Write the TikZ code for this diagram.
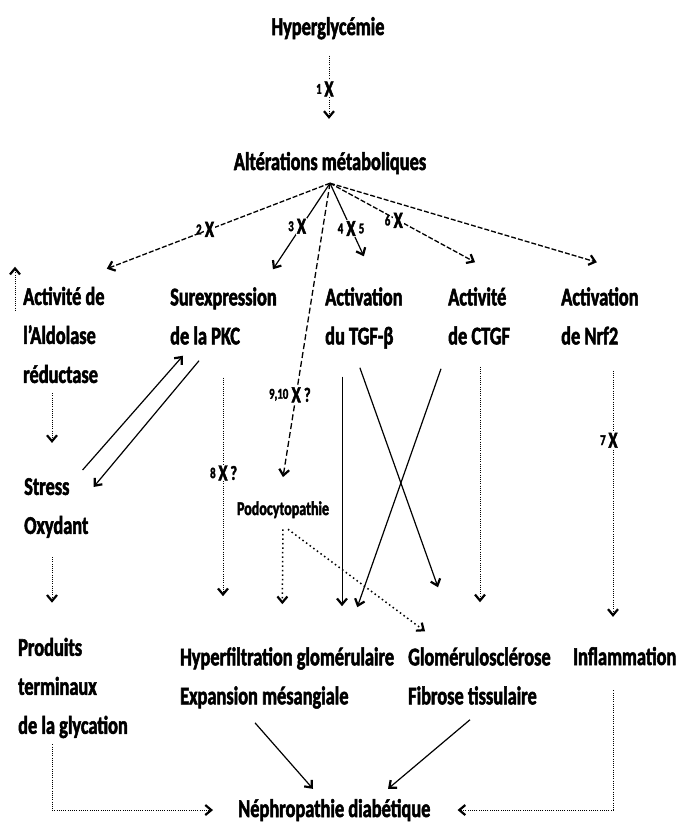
\documentclass[tikz,border=0pt]{standalone}
\usepackage{fontspec}
\setmainfont{Carlito}[FakeStretch=0.72,FakeBold=2]
\usetikzlibrary{arrows.meta}

\begin{document}
\begin{tikzpicture}[x=1pt,y=-1pt,
  txt/.style={font=\fontsize{25.5}{39}\selectfont\bfseries, inner sep=0pt, align=left},
  small/.style={font=\fontsize{19.5}{22}\selectfont\bfseries, inner sep=0pt},
  xm/.style={font=\fontsize{23}{24}\selectfont\bfseries, fill=white, inner sep=1pt},
  num/.style={font=\fontsize{15}{16}\selectfont\bfseries, inner sep=1pt},
  qm/.style={font=\fontsize{20}{22}\selectfont\bfseries, inner sep=1pt},
  tip/.style={-{Straight Barb[length=6pt,width=10pt,line width=2.2pt]}},
  solidl/.style={tip, line width=1.2pt},
  dashl/.style={tip, line width=1.3pt, dash pattern=on 5pt off 2pt},
  dotl/.style={tip, line width=0.8pt, dash pattern=on 1pt off 1.2pt},
  coarse/.style={tip, line width=1.5pt, dash pattern=on 1.5pt off 3pt},
]
\useasboundingbox[fill=white] (0,0) rectangle (678,827);

% boxes of text
\node[txt,anchor=base] (hyper) at (328,35) {Hyperglycémie};
\node[txt,anchor=base] (alt) at (330,170) {Altérations métaboliques};
\node[txt,anchor=west] (ald) at (23,335) {Activité de\\l’Aldolase\\réductase};
\node[txt,anchor=west] (pkc) at (170,316) {Surexpression\\de la PKC};
\node[txt,anchor=west] (tgf) at (325,318) {Activation\\du TGF-β};
\node[txt,anchor=west] (ctgf) at (448,316) {Activité\\de CTGF};
\node[txt,anchor=west] (nrf) at (561,316) {Activation\\de Nrf2};
\node[txt,anchor=west] (stress) at (24,508) {Stress\\Oxydant};
\node[small,anchor=base] (podo) at (283,515) {Podocytopathie};
\node[txt,anchor=west] (prod) at (18,688) {Produits\\terminaux\\de la glycation};
\node[txt,anchor=west] (hyp) at (180,678) {Hyperfiltration glomérulaire\\Expansion mésangiale};
\node[txt,anchor=west] (glo) at (408,676) {Glomérulosclérose\\Fibrose tissulaire};
\node[txt,anchor=base west] (infl) at (573,665) {Inflammation};
\node[txt,anchor=base west] (neph) at (238,817) {Néphropathie diabétique};

\coordinate (apex) at ([yshift=-9pt]alt.south);

% first step
\draw[dotl, shorten <=16pt, shorten >=33pt] (hyper.south -| 329,0) -- node[xm,pos=0.44,label={[num]left:1}] (x1) {X} (alt.north -| 329,0);

% fan of pathways
\draw[dashl] (apex) -- node[xm,pos=0.54,label={[num]left:2}] (x2) {X} ([shift={(2pt,18pt)}]ald.north east);
\draw[solidl] (apex) -- node[xm,pos=0.5,label={[num]left:3}] (x3) {X} ([shift={(-4pt,18pt)}]pkc.north east);
\draw[dashl, dash pattern=on 6pt off 3pt] (apex) -- node[xm,pos=0.72,label={[num]left:{9,10}},label={[qm]right:?}] (x9) {X} ([yshift=24pt]podo.north);
\draw[solidl] (apex) -- node[xm,pos=0.62,label={[num]left:4},label={[num]right:5}] (x4) {X} ([yshift=31pt]tgf.north);
\draw[dashl] (apex) -- node[xm,pos=0.47,label={[num]left:6}] (x6) {X} ([shift={(-4pt,25pt)}]ctgf.north);
\draw[dashl] (apex) -- ([shift={(-3pt,25pt)}]nrf.north);

% left column
\draw[dotl] ([shift={(-8pt,-24pt)}]ald.north west) -- ([shift={(-8pt,20pt)}]ald.north west);
\draw[dotl, shorten <=10pt, shorten >=35pt] (ald.south -| 52,0) -- (stress.north -| 52,0);
\draw[solidl] ([shift={(-6pt,38pt)}]stress.east) -- ([shift={(13pt,-11pt)}]pkc.south west);
\draw[solidl] ([shift={(29pt,-16pt)}]pkc.south west) -- ([shift={(5pt,21pt)}]stress.east);
\draw[dotl, shorten <=19pt, shorten >=35pt] (stress.south -| 52,0) -- (prod.north -| 52,0);

% middle
\draw[dotl, shorten <=33pt, shorten >=51pt] (pkc.south -| 223,0) -- node[xm,pos=0.424,label={[num]left:8},label={[qm]right:?}] (x8) {X} (hyp.north -| 223,0);
\draw[coarse, shorten <=11pt, shorten >=43pt] (podo.south) -- (hyp.north -| 282,0);
\draw[coarse] ([shift={(5pt,-11pt)}]podo.south) -- ([shift={(17pt,16pt)}]glo.north west);
\draw[solidl, line width=0.9pt, shorten <=28pt, shorten >=41pt] (tgf.south -| 342,0) -- (hyp.north -| 342,0);
\draw[solidl] ([shift={(-4pt,-19pt)}]tgf.south) -- ([shift={(30pt,60pt)}]glo.north west);
\draw[solidl] ([shift={(-7pt,-24pt)}]ctgf.south west) -- ([shift={(-37pt,40pt)}]hyp.north east);
\draw[dotl, shorten <=22pt, shorten >=45pt] (ctgf.south -| 480,0) -- (glo.north -| 480,0);
\draw[dotl, shorten <=26pt, shorten >=30pt] (nrf.south -| 613,0) -- node[xm,pos=0.316,label={[num]left:7}] (x7) {X} (infl.north -| 613,0);

% towards the nephropathy
\draw[solidl] ([shift={(75pt,-14pt)}]hyp.south west) -- ([shift={(75pt,10pt)}]neph.north west);
\draw[solidl] ([shift={(62pt,-15pt)}]glo.south west) -- ([shift={(150pt,10pt)}]neph.north west);
\draw[dotl, shorten <=6pt, shorten >=25pt] (prod.south -| 52,0) |- (neph.west);
\draw[dotl, shorten <=25pt, shorten >=27pt] (infl.south -| 613,0) |- (neph.east);
\end{tikzpicture}
\end{document}
